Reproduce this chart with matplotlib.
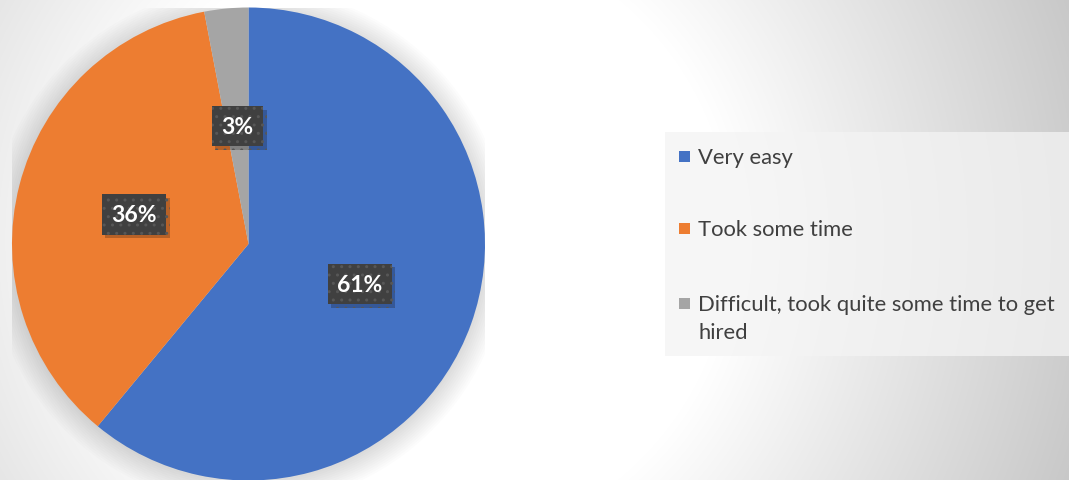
import numpy as np
import matplotlib.pyplot as plt
from matplotlib import patheffects as pe
from matplotlib.patches import Rectangle, Circle

labels = ['Very easy', 'Took some time', 'Difficult, took quite some time to get\nhired']
shares = [61, 36, 3]
colors = ['#4472C4', '#ED7D31', '#A5A5A5']

W, H = 1069, 481
fig = plt.figure(figsize=(W / 100, H / 100), dpi=100)

# soft grey radial background
bg = fig.add_axes([0, 0, 1, 1], zorder=0)
yy, xx = np.mgrid[0:H, 0:W]
d = np.hypot(xx - 420, yy - 240)
shade = np.clip(255 - 0.144 * np.clip(d - 311, 0, None), 0, 255) / 255
bg.imshow(np.dstack([shade] * 3), extent=[0, W, H, 0], aspect='auto')
bg.set_xlim(0, W)
bg.set_ylim(H, 0)
bg.axis('off')

# legend panel
bg.add_patch(Rectangle((665, 133), W - 665, 224, fc='#f4f4f4', ec='none', alpha=0.75))
ys = [158, 230, 305]
for lab, col, y in zip(labels, colors, ys):
    bg.add_patch(Rectangle((679, y - 6), 11, 11, fc=col, ec='none'))
    lines = lab.split('\n')
    for k, line in enumerate(lines):
        bg.text(698, y + 28 * k, line, fontsize=15.8, family='Lato',
                color='#404040', va='center')

# pie
ax = fig.add_axes([12 / W, -0.5 / H, 473 / W, 473 / H], zorder=1)

# blurred shadow around the pie
for i in range(12):
    ax.add_patch(Circle((0.0, -0.01), 1.0 + i * 0.009, fc='#000000', ec='none',
                        alpha=0.012, zorder=0))

wedges, texts, autotexts = ax.pie(
    shares, colors=colors, startangle=90, counterclock=False,
    autopct='%d%%', pctdistance=0.5, radius=1,
    wedgeprops=dict(linewidth=0),
    textprops=dict(color='white', fontsize=16.5, fontweight='bold', family='Lato'))
ax.set_xlim(-1, 1)
ax.set_ylim(-1, 1)
ax.axis('off')

for t in autotexts:
    t.set_bbox(dict(boxstyle='square,pad=0.42', fc='#404040', ec='#575757',
                    lw=0, hatch='..'))
    t.get_bbox_patch().set_path_effects([
        pe.SimplePatchShadow(offset=(2.5, -2.5), shadow_rgbFace='black', alpha=0.22),
        pe.Normal()])

fig.savefig('out.png', dpi=100)
